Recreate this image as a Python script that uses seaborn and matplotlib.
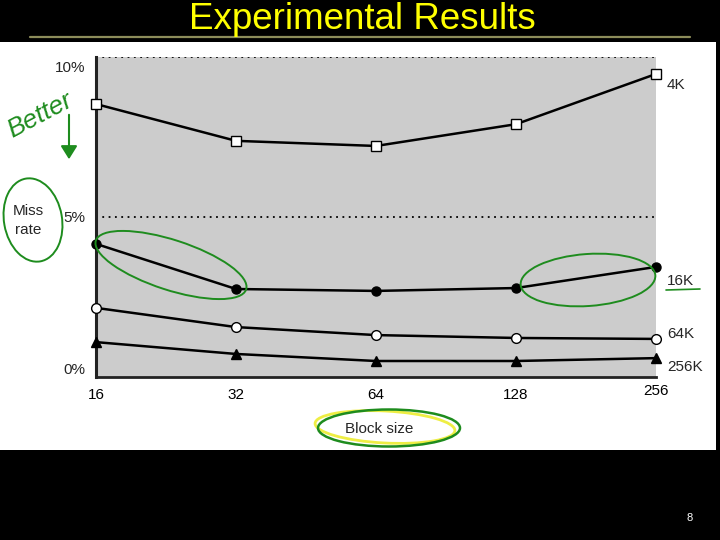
import matplotlib
matplotlib.use("Agg")
import matplotlib.pyplot as plt
import matplotlib.patches as mpatches
from matplotlib.transforms import IdentityTransform, ScaledTranslation
import numpy as np
import pandas as pd
import seaborn as sns

# ---- data ----
block_sizes = ["16", "32", "64", "128", "256"]
miss_4k = [8.53, 7.38, 7.22, 7.90, 9.47]
miss_16k = [4.16, 2.75, 2.69, 2.78, 3.44]
miss_64k = [2.16, 1.56, 1.31, 1.22, 1.19]
miss_256k = [1.09, 0.72, 0.50, 0.50, 0.59]
series_names = ["4K", "16K", "64K", "256K"]
y_ticks = [0, 5, 10]
y_tick_labels = ["0%", "5%", "10%"]

series_values = [miss_4k, miss_16k, miss_64k, miss_256k]
rows = []
for name, vals in zip(series_names, series_values):
    for i, (b, v) in enumerate(zip(block_sizes, vals)):
        rows.append({"cache": name, "pos": i, "block": b, "miss": v})
df = pd.DataFrame(rows)

sns.set_style("white")
plt.rcParams["font.family"] = ["Liberation Sans", "DejaVu Sans"]

W, H = 720, 540
fig = plt.figure(figsize=(7.2, 5.4), dpi=100, facecolor="black")
px = IdentityTransform()

def Y(y):
    return H - y

# white panel (behind axes)
fig.patches.append(mpatches.Rectangle((0, Y(450)), 716, 408, transform=px,
                                      facecolor="white", edgecolor="none", zorder=-5))
# title + rule
fig.text(362 / W, 1 - 29 / H, "Experimental Results", color="#ffff00",
         fontsize=26.5, ha="center", va="baseline",
         family=["Liberation Sans Narrow", "Liberation Sans", "DejaVu Sans"])
fig.lines.append(plt.Line2D([30, 690], [Y(37), Y(37)], transform=px,
                            color="#8c8c5a", lw=1.6, zorder=-4))
fig.text(690 / W, 1 - 518 / H, "8", color="white", fontsize=8, ha="center", va="center")

# axes
left, right, top, bottom = 96, 656, 57, 377
ax = fig.add_axes([left / W, (H - bottom) / H, (right - left) / W, (bottom - top) / H])
ax.set_zorder(1)
ax.set_facecolor("#cccccc")
ax.set_xlim(0, 4)
ax.set_ylim(0, 10)

styles = {
    "4K": dict(marker="s", mfc="white", ms=7.5),
    "16K": dict(marker="o", mfc="black", ms=6.5),
    "64K": dict(marker="o", mfc="white", ms=7),
    "256K": dict(marker="^", mfc="black", ms=7),
}
for name in series_names:
    sub = df[df.cache == name]
    st = styles[name]
    sns.lineplot(data=sub, x="pos", y="miss", ax=ax, color="black", lw=1.8,
                 marker=st["marker"], markersize=st["ms"], markerfacecolor=st["mfc"],
                 markeredgecolor="black", markeredgewidth=1.0, clip_on=False,
                 legend=False, zorder=5)

# dotted grid lines at 5% and 10%
for yv in [5, 10]:
    ax.axhline(yv, color="black", lw=1.3, ls=(0, (1, 2.5)), zorder=2)

for s in ["top", "right"]:
    ax.spines[s].set_visible(False)
ax.spines["left"].set_linewidth(2.2)
ax.spines["bottom"].set_linewidth(2.0)
ax.spines["left"].set_color("#222222")
ax.spines["bottom"].set_color("#222222")

ax.set_xticks(range(len(block_sizes)))
ax.set_xticklabels(block_sizes, fontsize=11)
ax.tick_params(axis="x", direction="in", length=11, width=1.0, pad=8, colors="black")
xl = ax.get_xticklabels()
xl[-1].set_transform(xl[-1].get_transform() + ScaledTranslation(0, 4 / 100, fig.dpi_scale_trans))
ax.set_yticks(y_ticks)
ax.set_yticklabels(y_tick_labels, fontsize=11)
ax.tick_params(axis="y", length=0, pad=8)
ylbls = ax.get_yticklabels()
ylbls[0].set_va("bottom")
ylbls[2].set_va("top")
ylbls[2].set_transform(ylbls[2].get_transform() + ScaledTranslation(0, -4 / 100, fig.dpi_scale_trans))
ax.set_xlabel("")
ax.set_ylabel("")
ax.grid(False)

# series labels on right
offsets = {"4K": -11, "16K": -14, "64K": 5, "256K": -9}
for name, vals in zip(series_names, series_values):
    ax.annotate(name, xy=(4, vals[-1]), xytext=(11, offsets[name]),
                textcoords="offset pixels", fontsize=11, va="center", ha="left",
                annotation_clip=False)

# axis titles as text
fig.text(28 / W, 1 - 211 / H, "Miss", fontsize=11, ha="center", va="center")
fig.text(28 / W, 1 - 230 / H, "rate", fontsize=11, ha="center", va="center")
fig.text(379 / W, 1 - 429 / H, "Block size", fontsize=11, ha="center", va="center")

# green handwritten annotations
g = "#1e8c1e"
fig.text(40 / W, 1 - 115 / H, "Better", color=g, fontsize=19, rotation=28,
         ha="center", va="center", style="italic")
fig.patches.append(mpatches.FancyArrowPatch((69, Y(112)), (69, Y(162)), transform=px,
                   arrowstyle="-|>,head_length=8,head_width=5", color=g, lw=1.5,
                   zorder=10))
ell = [
    ((33, 220), 58, 84, 10),
    ((171, 265), 158, 50, -18),
    ((588, 280), 135, 52, 4),
]
for (cx, cy), w, h, a in ell:
    fig.patches.append(mpatches.Ellipse((cx, Y(cy)), w, h, angle=a, transform=px,
                                        fill=False, edgecolor=g, lw=1.4, zorder=10))
fig.patches.append(mpatches.Ellipse((385, Y(427)), 140, 32, angle=-3, transform=px,
                                    fill=False, edgecolor="#eeee44", lw=2.0, zorder=10))
fig.patches.append(mpatches.Ellipse((389, Y(428)), 142, 37, angle=0, transform=px,
                                    fill=False, edgecolor=g, lw=1.8, zorder=11))
fig.lines.append(plt.Line2D([666, 700], [Y(290), Y(289)], transform=px, color=g,
                            lw=1.2, zorder=10))

fig.savefig("out.png", dpi=100, facecolor="black")
